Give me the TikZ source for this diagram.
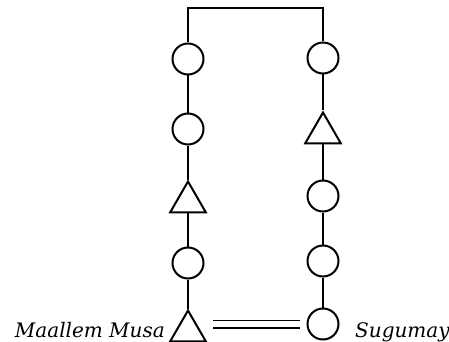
\documentclass[tikz,border=0pt]{standalone}
\usepackage{fontspec}
\setmainfont{DejaVu Serif}
\usetikzlibrary{shapes.geometric}

\tikzset{
  kin/.style={draw, line width=2pt, inner sep=0pt},
  female/.style={kin, circle, minimum size=31pt},
  male/.style={kin, regular polygon, regular polygon sides=3, minimum size=41pt},
  tie/.style={line width=2pt},
  wed/.style={line width=1.5pt, double distance=6pt},
  kinname/.style={font=\itshape\fontsize{20}{20}\selectfont, inner sep=0pt}
}

\begin{document}
\begin{tikzpicture}[x=1pt, y=-1pt]
  \useasboundingbox (0,0) rectangle (449,342);

  % left line, top to bottom
  \node[female] (l1) at (188,59) {};
  \node[female] (l2) at (188,129) {};
  \node[male]   (l3) at (188,202) {};
  \node[female] (l4) at (188,263) {};
  \node[male]   (l5) at (188,331) {};

  % right line, top to bottom
  \node[female] (r1) at (323,58) {};
  \node[male]   (r2) at (323,133) {};
  \node[female] (r3) at (323,196) {};
  \node[female] (r4) at (323,261) {};
  \node[female] (r5) at (323,324) {};

  \coordinate (tl) at (188,8);
  \coordinate (tr) at (323,8);

  % descent
  \draw[tie] (l1) -- (tl) -- (tr) -- (r1);
  \draw[tie] (l1) -- (l2);
  \draw[tie] (l2) -- (l3);
  \draw[tie] (l3) -- (l4);
  \draw[tie] (l4) -- (l5);
  \draw[tie] (r1) -- (r2);
  \draw[tie] (r2) -- (r3);
  \draw[tie] (r3) -- (r4);
  \draw[tie] (r4) -- (r5);

  % marriage
  \draw[wed] ([xshift=25pt]l5.center |- r5.center) -- ([xshift=-23pt]r5.center);

  \node[kinname, anchor=base east] (musa) at (165,337) {Maallem Musa};
  \node[kinname, anchor=base west] (sugu) at (355,337) {Sugumay};
\end{tikzpicture}
\end{document}
